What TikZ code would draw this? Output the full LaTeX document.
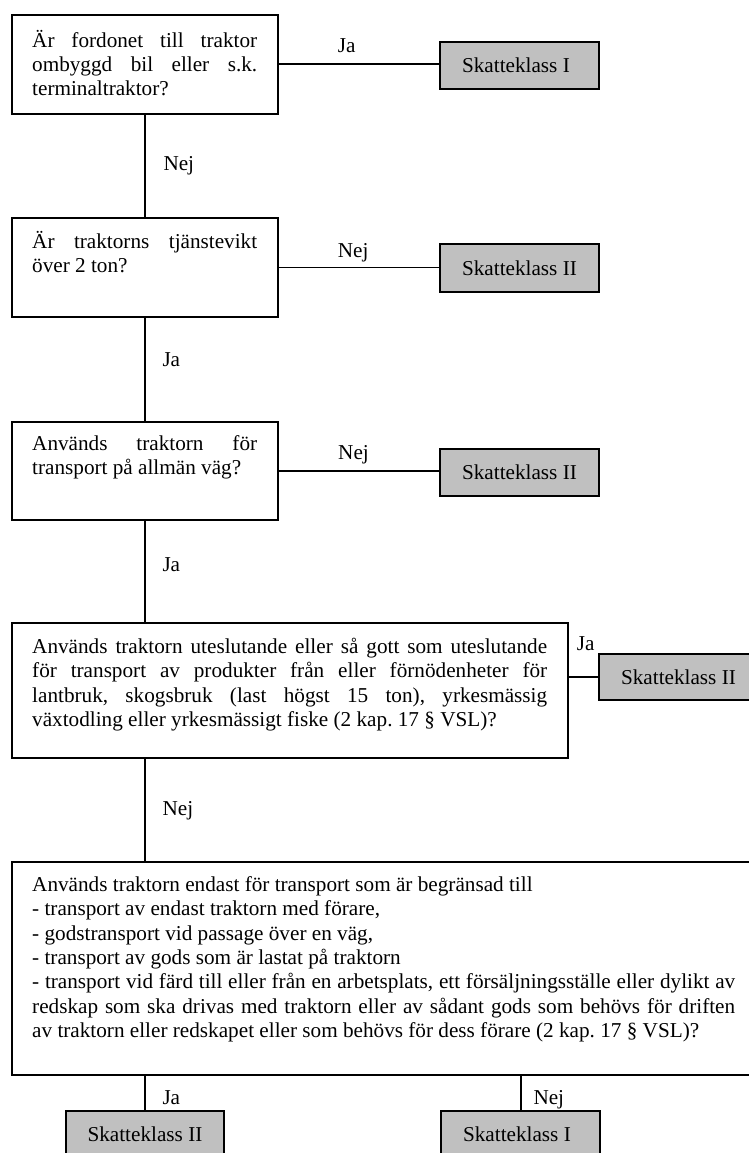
\documentclass[tikz,border=0pt]{standalone}
\usepackage{fontspec}
\setmainfont{Liberation Serif}
\setlength{\parindent}{0pt}
\frenchspacing
\definecolor{boxgray}{RGB}{192,192,192}
\newcommand{\qs}{\rule[-7.29pt]{0pt}{24.3pt}}
\newcommand{\setsp}{\spaceskip=0.25em plus 0.8em minus 0.05em\xspaceskip=\spaceskip\frenchspacing}
\newcommand{\jl}[2]{\makebox[#1][s]{\setsp\qs #2}}
\newcommand{\nl}[1]{\mbox{\setsp\qs #1}}
\newcommand{\rt}[1]{\makebox[115pt][l]{\setsp #1}}
\begin{document}
\begin{tikzpicture}[x=1pt,y=-1pt,
  qbox/.style={draw, line width=1.9pt, rectangle, anchor=north west, inner sep=0pt},
  rbox/.style={draw, line width=2.1pt, fill=boxgray, anchor=north west, inner xsep=0pt, inner ysep=0pt,
    text height=13.9pt, text depth=0pt, minimum width=159pt, minimum height=47pt,
    font=\fontsize{21.2}{24.3}\selectfont},
  qtext/.style={anchor=north west, inner sep=0pt, align=left, font=\fontsize{21.2}{24.3}\selectfont},
  lbl/.style={anchor=base west, inner sep=0pt, font=\fontsize{21.2}{24.3}\selectfont},
  conn/.style={line width=1.9pt}]
\useasboundingbox (0,0) rectangle (749,1153);
\clip (0,0) rectangle (749,1153);

% question boxes
\node[qbox, minimum width=266pt, minimum height=99pt] (q1) at (11,14) {};
\node[qbox, minimum width=266pt, minimum height=99pt] (q2) at (11,217) {};
\node[qbox, minimum width=266pt, minimum height=98pt] (q3) at (11,421) {};
\node[qbox, minimum width=556pt, minimum height=135pt] (q4) at (11,622) {};
\node[qbox, minimum width=745pt, minimum height=213pt] (q5) at (11,861) {};

% question texts
\node[qtext, text width=225pt] (q1t) at (32,29.7) {\jl{225pt}{Är fordonet till traktor}\\\jl{225pt}{ombyggd bil eller s.k.}\\\nl{terminaltraktor?}};
\node[qtext, text width=225pt] (q2t) at (32,231.3) {\jl{225pt}{Är traktorns tjänstevikt}\\\nl{över 2 ton?}};
\node[qtext, text width=225pt] (q3t) at (32,433) {\jl{225pt}{Används traktorn för}\\\nl{transport på allmän väg?}};
\node[qtext, text width=515pt] (q4t) at (32,636.3) {\jl{515pt}{Används traktorn uteslutande eller så gott som uteslutande}\\\jl{515pt}{för transport av produkter från eller förnödenheter för}\\\jl{515pt}{lantbruk, skogsbruk (last högst 15 ton), yrkesmässig}\\\nl{växtodling eller yrkesmässigt fiske (2 kap. 17 § VSL)?}};
\node[qtext, text width=703pt] (q5t) at (32,874.3) {\nl{Används traktorn endast för transport som är begränsad till}\\\nl{- transport av endast traktorn med förare,}\\\nl{- godstransport vid passage över en väg,}\\\nl{- transport av gods som är lastat på traktorn}\\\jl{703pt}{- transport vid färd till eller från en arbetsplats, ett försäljningsställe eller dylikt av}\\\jl{703pt}{redskap som ska drivas med traktorn eller av sådant gods som behövs för driften}\\\nl{av traktorn eller redskapet eller som behövs för dess förare (2 kap. 17 § VSL)?}};

% result boxes
\node[rbox] (r1) at (439,41) {\rt{Skatteklass I}};
\node[rbox, minimum height=48pt] (r2) at (439,243) {\rt{Skatteklass II}};
\node[rbox] (r3) at (439,448) {\rt{Skatteklass II}};
\node[rbox, minimum height=46pt] (r4) at (598,653) {\rt{Skatteklass II}};
\node[rbox, minimum width=158pt] (r5) at (65,1110) {\rt{Skatteklass II}};
\node[rbox] (r6) at (440,1110) {\rt{Skatteklass I}};

% connectors
\draw[conn] (q1.east) -- (q1.east -| r1.west);
\draw[conn] (q1.south) -- (q2.north);
\draw[conn] (q2.east) -- (q2.east -| r2.west);
\draw[conn] (q2.south) -- (q3.north);
\draw[conn] (q3.east) -- (q3.east -| r3.west);
\draw[conn] (q3.south) -- (q3.south |- q4.north);
\draw[conn] (r4.west -| q4.east) -- (r4.west);
\draw[conn] (q1.south |- q4.south) -- (q1.south |- q5.north);
\draw[conn] (r5.north |- q5.south) -- (r5.north);
\draw[conn] (r6.north |- q5.south) -- (r6.north);

% labels
\node[lbl] (l1) at (337.7,52.3) {Ja};
\node[lbl] (l2) at (163.3,170) {Nej};
\node[lbl] (l3) at (337.7,257.7) {Nej};
\node[lbl] (l4) at (162.3,366.7) {Ja};
\node[lbl] (l5) at (338,459.5) {Nej};
\node[lbl] (l6) at (162.3,571.7) {Ja};
\node[lbl] (l7) at (576.7,650.7) {Ja};
\node[lbl] (l8) at (162.4,815) {Nej};
\node[lbl] (l9) at (162.3,1104.7) {Ja};
\node[lbl] (l10) at (533.3,1104.7) {Nej};
\end{tikzpicture}
\end{document}
